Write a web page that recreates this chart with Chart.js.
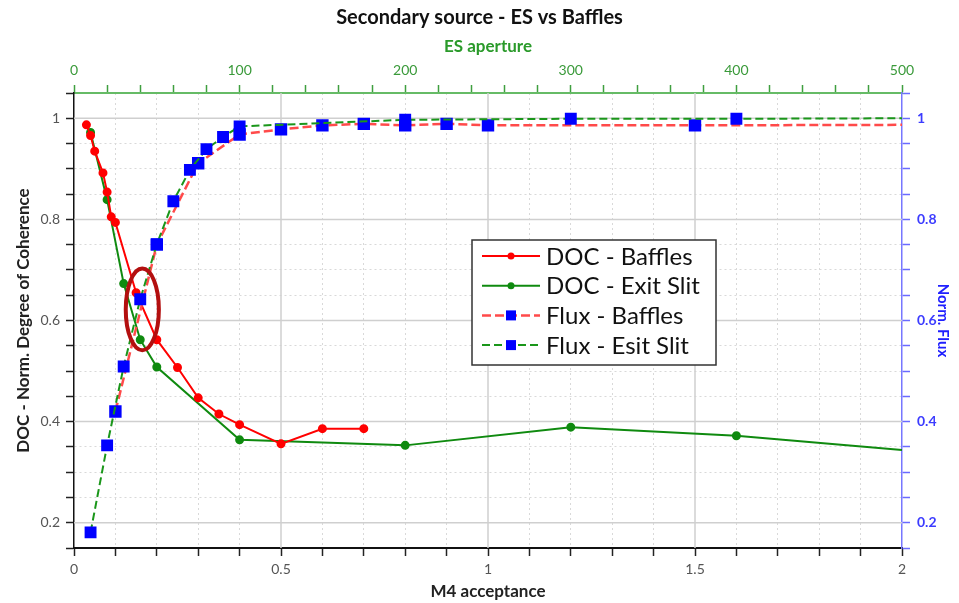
<!DOCTYPE html>
<html>
<head>
<meta charset="utf-8">
<script src="https://cdn.jsdelivr.net/npm/chart.js@4"></script>
<style>
  html, body { margin: 0; padding: 0; background: #fff; }
</style>
</head>
<body>
<canvas id="chart" width="959" height="603"></canvas>
<script>
// DOC vs M4 acceptance (baffles)
const m4Baffles = [0.03, 0.04, 0.05, 0.07, 0.08, 0.09, 0.1, 0.15, 0.2, 0.25, 0.3, 0.35, 0.4, 0.5, 0.6, 0.7];
const docBaffles = [0.987, 0.966, 0.935, 0.892, 0.854, 0.805, 0.794, 0.655, 0.562, 0.507, 0.447, 0.415, 0.394, 0.356, 0.386, 0.386];

// DOC vs ES aperture (exit slit)
const esAperture = [10, 20, 30, 40, 50, 100, 200, 300, 400, 500];
const docExitSlit = [0.972, 0.839, 0.673, 0.562, 0.508, 0.364, 0.353, 0.389, 0.372, 0.344];

// flux vs M4 acceptance (baffles)
const m4Flux = [0.1, 0.2, 0.3, 0.4, 0.5, 0.6, 0.7, 0.8, 0.9, 1.0, 1.5, 2.0];
const fluxBaffles = [0.42, 0.75, 0.911, 0.968, 0.978, 0.986, 0.989, 0.986, 0.989, 0.986, 0.986, 0.987];

// flux vs ES aperture (exit slit)
const esFluxAperture = [10, 20, 30, 40, 50, 60, 70, 80, 90, 100, 200, 300, 400, 500];
const fluxExitSlit = [0.181, 0.353, 0.509, 0.642, 0.751, 0.836, 0.898, 0.939, 0.963, 0.984, 0.997, 0.999, 0.999, 1.0];

// axis ranges / tick steps
const m4Range = [0, 2], m4Minor = 0.1, m4Major = 0.5;
const esRange = [0, 500], esMinor = 20, esMajor = 100;
const yRange = [0.15, 1.05], yMinor = 0.05, yMajor = 0.2;

const FONT = 'Lato';

function stepTicks(min, max, step) {
  const out = [];
  const n = Math.round((max - min) / step);
  for (let i = 0; i <= n; i++) out.push(+(min + i * step).toFixed(4));
  return out;
}
const isMult = (v, step) => Math.abs(v / step - Math.round(v / step)) < 1e-6;
const fmt = v => String(+v.toFixed(2));
const toPts = (xs, ys) => xs.map((x, i) => ({ x: x, y: ys[i] }));

const minorGrid = '#d9d9d9';
function gridColor(ctx, major, range) {
  const v = ctx.tick ? ctx.tick.value : null;
  if (v === null || isMult(v, major) || v <= range[0] || v >= range[1]) return 'rgba(0,0,0,0)';
  return minorGrid;
}

// hide markers sitting on the right edge (the plot clips them in the original)
const edgeRadius = r => ctx => {
  const s = ctx.chart.scales[ctx.dataset.xAxisID];
  return ctx.parsed && ctx.parsed.x >= s.max ? 0 : r;
};

// solid major grid lines on top of the dotted minor ones
const majorGridPlugin = {
  id: 'majorGrid',
  beforeDatasetsDraw(chart) {
    const { ctx, chartArea: a, scales } = chart;
    ctx.save();
    ctx.strokeStyle = '#cfcfcf';
    ctx.lineWidth = 1.5;
    stepTicks(m4Range[0], m4Range[1], m4Major).forEach(v => {
      if (v <= m4Range[0] || v >= m4Range[1]) return;
      const px = scales.x.getPixelForValue(v);
      ctx.beginPath(); ctx.moveTo(px, a.top); ctx.lineTo(px, a.bottom); ctx.stroke();
    });
    stepTicks(0.2, 1.0, yMajor).forEach(v => {
      const py = scales.y.getPixelForValue(v);
      ctx.beginPath(); ctx.moveTo(a.left, py); ctx.lineTo(a.right, py); ctx.stroke();
    });
    ctx.restore();
  }
};

// red ellipse highlighting the crossing
const highlight = { x: 0.165, y: 0.622, rx: 0.04, ry: 0.081 };
const ellipsePlugin = {
  id: 'ellipse',
  afterDatasetsDraw(chart) {
    const { ctx, scales } = chart;
    const cx = scales.x.getPixelForValue(highlight.x);
    const cy = scales.y.getPixelForValue(highlight.y);
    const rx = scales.x.getPixelForValue(highlight.x + highlight.rx) - cx;
    const ry = cy - scales.y.getPixelForValue(highlight.y + highlight.ry);
    ctx.save();
    ctx.strokeStyle = '#b30f0f';
    ctx.lineWidth = 4;
    ctx.beginPath();
    ctx.ellipse(cx, cy, rx, ry, 0, 0, Math.PI * 2);
    ctx.stroke();
    ctx.restore();
  }
};

// boxed legend inside the plot
const boxLegend = {
  id: 'boxLegend',
  afterDraw(chart) {
    const ctx = chart.ctx;
    const L = 472, T = 240, W = 244, H = 125, row = 29.7;
    ctx.save();
    ctx.fillStyle = '#fff';
    ctx.fillRect(L, T, W, H);
    ctx.strokeStyle = '#333';
    ctx.lineWidth = 1.5;
    ctx.strokeRect(L, T, W, H);
    chart.data.datasets.forEach((ds, i) => {
      const y = T + 16 + i * row;
      ctx.strokeStyle = ds.borderColor;
      ctx.lineWidth = ds.borderWidth;
      ctx.setLineDash(ds.borderDash || []);
      ctx.beginPath(); ctx.moveTo(482, y); ctx.lineTo(540, y); ctx.stroke();
      ctx.setLineDash([]);
      ctx.fillStyle = ds.pointBackgroundColor;
      if (ds.pointStyle === 'rect') {
        ctx.fillRect(511 - 5, y - 5, 10, 10);
      } else {
        ctx.beginPath(); ctx.arc(511, y, 3.5, 0, Math.PI * 2); ctx.fill();
      }
      ctx.fillStyle = '#111';
      ctx.font = '24px ' + FONT;
      ctx.textBaseline = 'middle';
      ctx.textAlign = 'left';
      ctx.fillText(ds.label, 546, y + 1);
    });
    ctx.restore();
  }
};

new Chart(document.getElementById('chart'), {
  type: 'line',
  data: {
    datasets: [
      {
        label: 'DOC - Baffles',
        data: toPts(m4Baffles, docBaffles),
        xAxisID: 'x', yAxisID: 'y',
        borderColor: '#ff0000', backgroundColor: '#ff0000',
        pointBackgroundColor: '#ff0000', pointBorderColor: '#ff0000',
        borderWidth: 2, pointRadius: edgeRadius(3.5), pointStyle: 'circle',
        order: 2
      },
      {
        label: 'DOC - Exit Slit',
        data: toPts(esAperture, docExitSlit),
        xAxisID: 'x2', yAxisID: 'y',
        borderColor: '#0f8a0f', backgroundColor: '#0f8a0f',
        pointBackgroundColor: '#0f8a0f', pointBorderColor: '#0f8a0f',
        borderWidth: 2, pointRadius: edgeRadius(3.5), pointStyle: 'circle',
        order: 3
      },
      {
        label: 'Flux - Baffles',
        data: toPts(m4Flux, fluxBaffles),
        xAxisID: 'x', yAxisID: 'y2',
        borderColor: '#ff4a4a', backgroundColor: '#0000ff',
        pointBackgroundColor: '#0000ff', pointBorderColor: '#0000ff',
        borderWidth: 2.5, borderDash: [9, 4], pointRadius: edgeRadius(7), pointStyle: 'rect',
        order: 1
      },
      {
        label: 'Flux - Esit Slit',
        data: toPts(esFluxAperture, fluxExitSlit),
        xAxisID: 'x2', yAxisID: 'y2',
        borderColor: '#1a961a', backgroundColor: '#0000ff',
        pointBackgroundColor: '#0000ff', pointBorderColor: '#0000ff',
        borderWidth: 2, borderDash: [8, 4], pointRadius: edgeRadius(7), pointStyle: 'rect',
        order: 0
      }
    ]
  },
  options: {
    responsive: false,
    animation: false,
    devicePixelRatio: 1,
    layout: { padding: 0 },
    elements: { line: { tension: 0 }, point: { borderWidth: 0 } },
    plugins: {
      legend: { display: false },
      tooltip: { enabled: false },
      title: {
        display: true,
        text: 'Secondary source - ES vs Baffles',
        color: '#111',
        font: { family: FONT, size: 20, weight: 'bold', lineHeight: 1.2 },
        padding: { top: 6, bottom: 6 }
      }
    },
    scales: {
      x: {
        type: 'linear', position: 'bottom', min: m4Range[0], max: m4Range[1],
        afterBuildTicks: s => { s.ticks = stepTicks(m4Range[0], m4Range[1], m4Minor).map(v => ({ value: v })); },
        afterFit: s => { s.height = 55; },
        ticks: {
          autoSkip: false, maxRotation: 0, padding: 5, color: '#555',
          font: { family: FONT, size: 14 },
          callback: v => isMult(v, m4Major) ? fmt(v) : ''
        },
        grid: { color: c => gridColor(c, m4Major, m4Range), lineWidth: 1, tickLength: 8, tickColor: '#222', tickWidth: 1.5 },
        border: { color: '#111', width: 2, dash: [2, 3] },
        title: {
          display: true, text: 'M4 acceptance', color: '#222',
          font: { family: FONT, size: 17, weight: 'bold', lineHeight: 1.2 },
          padding: { top: 0, bottom: 1 }
        }
      },
      x2: {
        type: 'linear', position: 'top', min: esRange[0], max: esRange[1],
        afterBuildTicks: s => { s.ticks = stepTicks(esRange[0], esRange[1], esMinor).map(v => ({ value: v })); },
        afterFit: s => { s.height = 57; },
        ticks: {
          autoSkip: false, maxRotation: 0, padding: 6, color: '#3a9a3a',
          font: { family: FONT, size: 14 },
          callback: v => isMult(v, esMajor) ? fmt(v) : ''
        },
        grid: { drawOnChartArea: false, tickLength: 8, tickColor: '#3f9f3f', tickWidth: 1.5 },
        border: { color: '#66bb66', width: 2 },
        title: {
          display: true, text: 'ES aperture', color: '#2a9a2a',
          font: { family: FONT, size: 17, weight: 'bold', lineHeight: 1.2 },
          padding: { top: 0, bottom: 0 }
        }
      },
      y: {
        type: 'linear', position: 'left', min: yRange[0], max: yRange[1],
        afterBuildTicks: s => { s.ticks = stepTicks(yRange[0], yRange[1], yMinor).map(v => ({ value: v })); },
        afterFit: s => { s.width = 74; },
        ticks: {
          autoSkip: false, padding: 6, color: '#555',
          font: { family: FONT, size: 14 },
          callback: v => isMult(v, yMajor) ? fmt(v) : ''
        },
        grid: { color: c => gridColor(c, yMajor, yRange), lineWidth: 1, tickLength: 8, tickColor: '#222', tickWidth: 1.5 },
        border: { color: '#111', width: 1.5, dash: [2, 3] },
        title: {
          display: true, text: 'DOC - Norm. Degree of Coherence', color: '#222',
          font: { family: FONT, size: 17, weight: 'bold', lineHeight: 1.2 },
          padding: { top: 13, bottom: 0 }
        }
      },
      y2: {
        type: 'linear', position: 'right', min: yRange[0], max: yRange[1],
        afterBuildTicks: s => { s.ticks = stepTicks(yRange[0], yRange[1], yMinor).map(v => ({ value: v })); },
        afterFit: s => { s.width = 57; },
        ticks: {
          autoSkip: false, padding: 7, color: '#3c3cff',
          font: { family: FONT, size: 14, weight: 'bold' },
          callback: v => isMult(v, yMajor) ? fmt(v) : ''
        },
        grid: { drawOnChartArea: false, tickLength: 8, tickColor: '#6a6aff', tickWidth: 1.5 },
        border: { color: '#7777ff', width: 1.5 },
        title: {
          display: true, text: 'Norm. Flux', color: '#2020ff',
          font: { family: FONT, size: 15, weight: 'bold', lineHeight: 1.2 },
          padding: { top: 7, bottom: 0 }
        }
      }
    }
  },
  plugins: [majorGridPlugin, ellipsePlugin, boxLegend]
});
</script>
</body>
</html>
